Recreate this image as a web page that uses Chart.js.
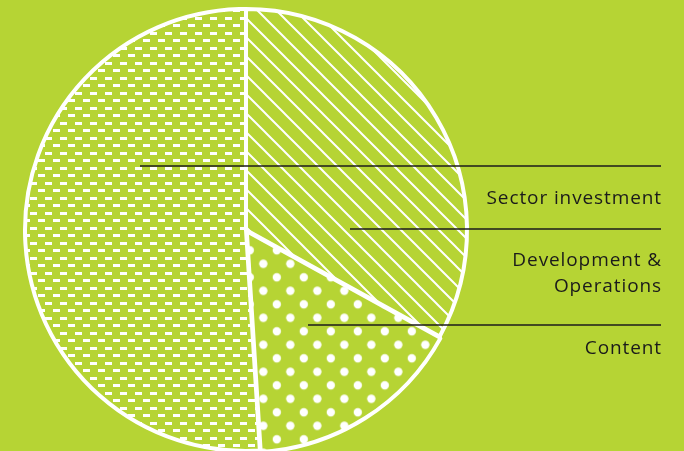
<!DOCTYPE html>
<html>
<head>
<meta charset="utf-8">
<script src="https://cdn.jsdelivr.net/npm/chart.js@4/dist/chart.umd.min.js"></script>
<style>
  html, body { margin: 0; padding: 0; background: #b6d434; overflow: hidden; }
  #wrap { width: 684px; height: 451px; position: relative; }
  canvas { display: block; }
</style>
</head>
<body>
<div id="wrap"><canvas id="c" width="684" height="451"></canvas></div>
<script>
// Budget split, clockwise from 12 o'clock
const categories = ['Development & Operations', 'Content', 'Sector investment'];
const shares = [33, 16, 51];
const labelText = [['Development &', 'Operations'], ['Content'], ['Sector investment']];

const BG = '#b6d434';
const INK = '#1b1b1b';

function tile(w, h, paint) {
  const c = document.createElement('canvas');
  c.width = w; c.height = h;
  const g = c.getContext('2d');
  g.fillStyle = BG;
  g.fillRect(0, 0, w, h);
  g.fillStyle = '#ffffff';
  g.strokeStyle = '#ffffff';
  paint(g);
  return document.createElement('canvas').getContext('2d').createPattern(c, 'repeat');
}

// diagonal hatching (top-left to bottom-right)
const H = 19;
const hatch = tile(H, H, g => {
  g.lineWidth = 2;
  g.beginPath();
  g.moveTo(-2, -2); g.lineTo(H + 2, H + 2);
  g.moveTo(-2, H - 2); g.lineTo(2, H + 2);
  g.moveTo(H - 2, -2); g.lineTo(H + 2, 2);
  g.stroke();
});

// staggered dots
const dots = tile(27, 27, g => {
  [[6, 6], [19.5, 19.5]].forEach(([x, y]) => {
    g.beginPath(); g.arc(x, y, 4.2, 0, Math.PI * 2); g.fill();
  });
});

// staggered short dashes
const dashes = tile(15, 15, g => {
  g.fillRect(0, 2, 7, 3);
  g.fillRect(8, 9, 7, 3);
});

// callout layout: leader line from inside the slice to the right margin, label below
const callouts = [
  { index: 2, y: 166, x0: 140, baselines: [204] },
  { index: 0, y: 229, x0: 350, baselines: [266, 292] },
  { index: 1, y: 325, x0: 308, baselines: [354] }
];
const RIGHT = 661;

const calloutPlugin = {
  id: 'callouts',
  afterDatasetsDraw(chart) {
    const ctx = chart.ctx;
    ctx.save();
    ctx.strokeStyle = INK;
    ctx.lineWidth = 1.5;
    ctx.fillStyle = INK;
    ctx.font = '19px "Open Sans"';
    ctx.letterSpacing = '0.9px';
    ctx.textAlign = 'right';
    ctx.textBaseline = 'alphabetic';
    callouts.forEach(c => {
      ctx.beginPath();
      ctx.moveTo(c.x0, c.y);
      ctx.lineTo(RIGHT, c.y);
      ctx.stroke();
      labelText[c.index].forEach((t, i) => ctx.fillText(t, RIGHT + 1, c.baselines[i]));
    });
    ctx.restore();
  }
};

new Chart(document.getElementById('c'), {
  type: 'pie',
  data: {
    labels: categories,
    datasets: [{
      data: shares,
      backgroundColor: [hatch, dots, dashes],
      borderColor: '#ffffff',
      borderWidth: 4,
      offset: [0, 6, 0],
      clip: false
    }]
  },
  options: {
    responsive: false,
    devicePixelRatio: 1,
    animation: false,
    radius: 221,
    layout: { padding: { left: 0, right: 192, top: 9, bottom: 0 } },
    plugins: { legend: { display: false }, tooltip: { enabled: false } }
  },
  plugins: [calloutPlugin]
});
</script>
</body>
</html>
